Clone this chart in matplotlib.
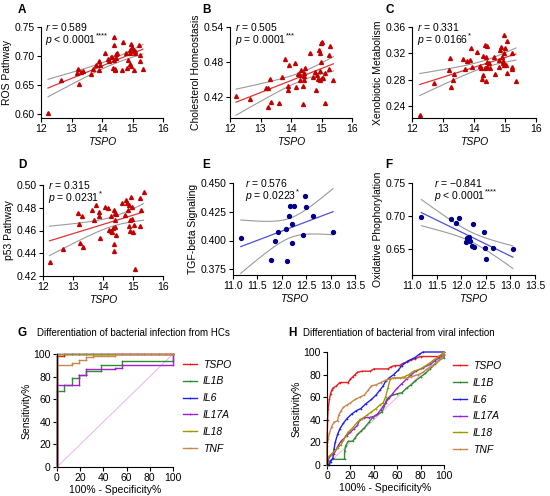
import numpy as np
import matplotlib.pyplot as plt
from matplotlib.lines import Line2D

plt.rcParams['font.family'] = ['Liberation Sans', 'DejaVu Sans']
plt.rcParams['mathtext.fontset'] = 'custom'
plt.rcParams['mathtext.rm'] = 'Liberation Sans'
plt.rcParams['mathtext.it'] = 'Liberation Sans:italic'
plt.rcParams['axes.linewidth'] = 0.8
plt.rcParams['xtick.major.width'] = 0.8
plt.rcParams['ytick.major.width'] = 0.8
plt.rcParams['xtick.major.size'] = 3
plt.rcParams['ytick.major.size'] = 3
plt.rcParams['xtick.major.pad'] = 1.5
plt.rcParams['ytick.major.pad'] = 1.5

# ---- scatter data (TSPO vs pathway score) ----
a_x = [12.23, 12.67, 13.20, 13.18, 13.26, 13.32, 13.38, 13.64, 13.71, 13.81, 13.90, 13.90, 13.94,
       14.11, 14.19, 14.23, 14.30, 14.34, 14.38, 14.40, 14.36, 14.43, 14.38, 14.45, 14.49, 14.47,
       14.44, 14.69, 14.66, 14.80, 14.82, 14.85, 14.91, 14.93, 14.93, 14.96, 14.95, 14.98, 14.99,
       15.01, 15.04, 15.07, 15.09, 15.20, 15.23, 15.25, 15.34]
a_y = [0.601, 0.659, 0.677, 0.670, 0.652, 0.672, 0.674, 0.669, 0.678, 0.684, 0.691, 0.675, 0.685,
       0.706, 0.694, 0.691, 0.699, 0.698, 0.732, 0.719, 0.679, 0.676, 0.693, 0.703, 0.706, 0.696,
       0.677, 0.724, 0.676, 0.705, 0.679, 0.693, 0.710, 0.705, 0.687, 0.683, 0.720, 0.716, 0.710,
       0.711, 0.676, 0.705, 0.708, 0.719, 0.692, 0.702, 0.678]

b_x = [12.20, 12.66, 13.18, 13.23, 13.32, 13.23, 13.35, 13.62, 13.70, 13.79, 13.90, 13.90, 13.93,
       14.12, 14.17, 14.23, 14.28, 14.30, 14.33, 14.38, 14.38, 14.41, 14.43, 14.44, 14.45, 14.63,
       14.71, 14.79, 14.81, 14.85, 14.90, 14.92, 14.94, 14.94, 14.97, 15.00, 14.96, 14.99, 15.01,
       15.05, 15.10, 15.10, 15.23, 15.25, 15.29, 15.39]
b_y = [0.422, 0.418, 0.436, 0.436, 0.452, 0.403, 0.412, 0.411, 0.455, 0.486, 0.440, 0.432, 0.476,
       0.479, 0.438, 0.460, 0.458, 0.449, 0.467, 0.440, 0.409, 0.450, 0.462, 0.457, 0.470, 0.495,
       0.455, 0.464, 0.432, 0.458, 0.451, 0.501, 0.465, 0.450, 0.513, 0.515, 0.496, 0.481, 0.453,
       0.453, 0.461, 0.410, 0.468, 0.493, 0.507, 0.450]

c_x = [12.25, 12.70, 13.21, 13.18, 13.25, 13.32, 13.37, 13.64, 13.70, 13.79, 13.88, 13.91, 13.94,
       14.11, 14.18, 14.22, 14.26, 14.28, 14.30, 14.35, 14.37, 14.39, 14.39, 14.41, 14.42, 14.43,
       14.47, 14.50, 14.65, 14.67, 14.80, 14.82, 14.84, 14.88, 14.91, 14.93, 14.95, 14.97, 14.97,
       14.98, 15.00, 15.03, 15.08, 15.08, 15.22, 15.24, 15.24, 15.35]
c_y = [0.2265, 0.275, 0.3125, 0.295, 0.269, 0.280, 0.289, 0.312, 0.296, 0.309, 0.310, 0.3285, 0.300,
       0.3225, 0.301, 0.2975, 0.281, 0.316, 0.2875, 0.2975, 0.333, 0.314, 0.278, 0.331, 0.3075, 0.300,
       0.305, 0.2985, 0.314, 0.289, 0.310, 0.300, 0.325, 0.330, 0.315, 0.309, 0.305, 0.321, 0.3025,
       0.3475, 0.3285, 0.3025, 0.339, 0.290, 0.296, 0.300, 0.320, 0.2785]

d_x = [12.22, 12.67, 13.15, 13.20, 13.24, 13.30, 13.34, 13.62, 13.69, 13.77, 13.86, 13.88, 13.90,
       14.08, 14.15, 14.21, 14.25, 14.27, 14.30, 14.34, 14.35, 14.37, 14.38, 14.40, 14.41, 14.42,
       14.40, 14.42, 14.64, 14.72, 14.78, 14.81, 14.83, 14.87, 14.88, 14.90, 14.91, 14.94, 14.96,
       14.98, 14.99, 15.04, 15.07, 15.23, 15.24, 15.26, 15.35]
d_y = [0.4326, 0.4434, 0.4757, 0.4657, 0.4487, 0.4730, 0.4452, 0.4780, 0.4692, 0.4824, 0.4727, 0.4762,
       0.4537, 0.4803, 0.4800, 0.4604, 0.4598, 0.4727, 0.4587, 0.4619, 0.4417, 0.4481, 0.4780, 0.4757,
       0.4692, 0.4560, 0.4628, 0.4745, 0.4839, 0.4736, 0.4868, 0.4845, 0.4780, 0.4824, 0.4640, 0.4598,
       0.4692, 0.4892, 0.4809, 0.4698, 0.4590, 0.4648, 0.4262, 0.4640, 0.4883, 0.4780, 0.4935]

e_x = [11.16, 11.77, 11.86, 11.93, 12.08, 12.10, 12.14, 12.16, 12.21, 12.25, 12.20, 12.44, 12.48,
       12.49, 12.64, 13.05]
e_y = [0.4021, 0.3827, 0.3995, 0.4070, 0.4096, 0.3821, 0.4214, 0.4304, 0.4145, 0.4304, 0.3975,
       0.4044, 0.4391, 0.4292, 0.4214, 0.4073]

f_x = [11.19, 11.80, 11.89, 11.95, 12.10, 12.12, 12.15, 12.18, 12.23, 12.22, 12.26, 12.46, 12.49,
       12.50, 12.65, 13.05]
f_y = [0.699, 0.6945, 0.6885, 0.6965, 0.660, 0.6667, 0.6677, 0.6616, 0.687, 0.654, 0.653, 0.675,
       0.6515, 0.6338, 0.6505, 0.649]

# ---- ROC data, G: bacterial infection vs HCs ----
g_names = ['TSPO', 'IL1B', 'IL6', 'IL17A', 'IL18', 'TNF']
g_fpr = {
    'TSPO': [0, 0, 6.25, 6.25, 12.5, 18.75, 25, 31.25, 37.5, 43.75, 50, 56.25, 62.5, 68.75, 75, 81.25, 87.5, 93.75, 100],
    'IL1B': [0, 0, 6.25, 6.25, 12.5, 12.5, 18.75, 18.75, 25, 25, 37.5, 37.5, 56.25, 56.25, 100, 100],
    'IL6': [0, 0, 100],
    'IL17A': [0, 0, 18.75, 18.75, 25, 25, 50, 50, 56.25, 56.25, 100, 100],
    'IL18': [0, 0, 100],
    'TNF': [0, 0, 12.5, 12.5, 18.75, 18.75, 25, 25, 31.25, 31.25, 50, 50, 100],
}
g_tpr = {
    'TSPO': [0, 98, 98, 100, 100, 100, 100, 100, 100, 100, 100, 100, 100, 100, 100, 100, 100, 100, 100],
    'IL1B': [0, 67, 67, 73, 73, 79, 79, 81, 81, 85, 85, 90, 90, 94, 94, 100],
    'IL6': [0, 100, 100],
    'IL17A': [0, 73, 73, 81, 81, 87, 87, 88, 88, 90, 90, 100],
    'IL18': [0, 100, 100],
    'TNF': [0, 90, 90, 92, 92, 95, 95, 97, 97, 98, 98, 100, 100],
}

# ---- ROC data, H: bacterial vs viral infection ----
h_fpr = {
    'TSPO': [0, 0, 0.5, 1, 2, 3, 4, 5, 8, 11, 18, 20, 22, 24, 26, 30, 37, 40, 52, 55, 58, 62, 65, 68, 72, 75, 80, 95, 100, 100],
    'IL1B': [0, 1, 2, 4, 15, 15, 16, 18, 22, 24, 26, 29, 32, 36, 39, 42, 47, 49, 51, 54, 60, 64, 68, 72, 75, 80, 84, 88, 92, 96, 100, 100],
    'IL6': [0, 2, 3, 5, 6, 7, 9, 11, 14, 17, 21, 25, 29, 33, 38, 42, 45, 48, 50, 53, 57, 61, 64, 69, 75, 79, 82, 100],
    'IL17A': [0, 1, 2, 4, 6, 8, 10, 12, 14, 17, 20, 23, 26, 28, 32, 36, 40, 43, 46, 48, 50, 53, 56, 60, 64, 68, 72, 76, 82, 88, 92, 96, 100, 100],
    'IL18': [0, 0, 1, 3, 6, 9, 12, 14, 16, 18, 20, 22, 26, 30, 34, 38, 42, 45, 48, 50, 52, 54, 58, 62, 66, 70, 74, 80, 86, 90, 94, 98, 100],
    'TNF': [0, 0, 1, 2, 4, 6, 9, 10, 12, 14, 17, 20, 24, 28, 32, 35, 38, 42, 46, 50, 56, 68, 72, 78, 82, 86, 90, 94, 98, 100, 100],
}
h_tpr = {
    'TSPO': [0, 20, 40, 50, 58, 63, 66, 68, 70, 73, 73, 76, 78, 80, 82, 83, 83, 85, 85, 87, 88, 88, 90, 91, 93, 94, 96, 96, 98, 100],
    'IL1B': [0, 0, 3, 5, 5, 12, 17, 21, 21, 24, 27, 30, 33, 38, 42, 44, 47, 52, 58, 61, 63, 64, 68, 71, 74, 78, 81, 85, 89, 93, 95, 100],
    'IL6': [0, 0, 3, 6, 14, 20, 27, 32, 37, 41, 45, 48, 50, 54, 58, 62, 66, 70, 74, 77, 80, 84, 88, 92, 95, 98, 100, 100],
    'IL17A': [0, 4, 7, 9, 10, 14, 18, 21, 23, 26, 29, 32, 35, 40, 42, 42, 43, 45, 49, 52, 55, 59, 63, 68, 72, 76, 80, 83, 86, 89, 92, 95, 97, 100],
    'IL18': [0, 2, 7, 9, 12, 15, 18, 22, 26, 29, 31, 33, 38, 41, 44, 47, 50, 53, 55, 60, 68, 76, 77, 77, 78, 80, 83, 85, 89, 92, 95, 98, 100],
    'TNF': [0, 17, 23, 28, 34, 38, 39, 44, 48, 51, 53, 55, 58, 60, 62, 66, 70, 71, 73, 75, 77, 77, 78, 80, 82, 85, 88, 91, 95, 98, 100],
}

roc_colors = {'TSPO': '#E41A1C', 'IL1B': '#2E8B2E', 'IL6': '#1F1FF0',
              'IL17A': '#A020D0', 'IL18': '#9A9A00', 'TNF': '#C8864A'}

W, H = 550, 496
fig = plt.figure(figsize=(W / 100, H / 100), dpi=100)


def px_axes(l, t, r, b):
    return fig.add_axes([l / W, 1 - b / H, (r - l) / W, (b - t) / H])


def fit_band(x, y):
    x = np.asarray(x)
    y = np.asarray(y)
    n = len(x)
    slope, icpt = np.polyfit(x, y, 1)
    xs = np.linspace(x.min(), x.max(), 120)
    yhat = icpt + slope * xs
    s = np.sqrt(np.sum((y - (icpt + slope * x)) ** 2) / (n - 2))
    sxx = np.sum((x - x.mean()) ** 2)
    df = n - 2
    z = 1.959964
    t = z + (z ** 3 + z) / (4 * df) + (5 * z ** 5 + 16 * z ** 3 + 3 * z) / (96 * df ** 2)
    se = s * np.sqrt(1 / n + (xs - x.mean()) ** 2 / sxx)
    return xs, yhat, yhat - t * se, yhat + t * se


def style_axes(ax):
    for side in ['top', 'right']:
        ax.spines[side].set_visible(False)
    ax.tick_params(labelsize=7.5, direction='out')


def scatter_panel(rect, x, y, pt_color, marker, ln_color, xlim, xticks, xfmt,
                  ylim, yticks, yfmt, ylabel, r_txt, p_txt, stars, tx):
    ax = px_axes(*rect)
    xs, yhat, lo, hi = fit_band(x, y)
    ax.plot(xs, lo, color='#9A9A9A', lw=0.8)
    ax.plot(xs, hi, color='#9A9A9A', lw=0.8)
    ax.plot(xs, yhat, color=ln_color, lw=0.9)
    ax.plot(x, y, linestyle='none', marker=marker, ms=2.8, color=pt_color, clip_on=False)
    ax.set_xlim(*xlim)
    ax.set_ylim(*ylim)
    ax.set_xticks(xticks)
    ax.set_xticklabels([xfmt.format(v) for v in xticks])
    ax.set_yticks(yticks)
    ax.set_yticklabels([yfmt.format(v) for v in yticks])
    ax.set_xlabel('TSPO', style='italic', fontsize=7.5, labelpad=2)
    ax.set_ylabel(ylabel, fontsize=7.5, labelpad=2)
    style_axes(ax)
    ax.text(tx, 1.0, r'$r$ = ' + r_txt, transform=ax.transAxes, fontsize=7.5, va='center')
    pt = ax.text(tx, 0.855, r'$p$ ' + p_txt, transform=ax.transAxes, fontsize=7.5, va='center')
    ax.annotate(stars, xy=(1.0, 0.55), xycoords=pt, fontsize=5.5, va='bottom', ha='left')
    return ax


row1_x = [12, 13, 14, 15, 16]
row2_x = [11.0, 11.5, 12.0, 12.5, 13.0, 13.5]

scatter_panel((41, 27, 163, 118), a_x, a_y, '#C00000', '^', '#E03535', (12, 16), row1_x, '{:.0f}',
              (0.593, 0.75), [0.60, 0.65, 0.70, 0.75], '{:.2f}', 'ROS Pathway',
              '0.589', '< 0.0001', '****', 0.03)
scatter_panel((230, 27, 352, 118), b_x, b_y, '#C00000', '^', '#E03535', (12, 16), row1_x, '{:.0f}',
              (0.385, 0.54), [0.42, 0.48, 0.54], '{:.2f}', 'Cholesterol Homeostasis',
              '0.505', '= 0.0001', '***', 0.04)
scatter_panel((412, 27, 536, 118), c_x, c_y, '#C00000', '^', '#E03535', (12, 16), row1_x, '{:.0f}',
              (0.222, 0.36), [0.24, 0.28, 0.32, 0.36], '{:.2f}', 'Xenobiotic Metabolism',
              '0.331', '= 0.0166', '*', 0.04)
scatter_panel((43, 185, 163, 276), d_x, d_y, '#C00000', '^', '#E03535', (12, 16), row1_x, '{:.0f}',
              (0.42, 0.50), [0.42, 0.44, 0.46, 0.48, 0.50], '{:.2f}', 'p53 Pathway',
              '0.315', '= 0.0231', '*', 0.04)
scatter_panel((233, 183, 355, 275), e_x, e_y, '#00008B', 'o', '#5050D8', (11, 13.5), row2_x, '{:.1f}',
              (0.37, 0.45), [0.375, 0.400, 0.425, 0.450], '{:.3f}', 'TGF-beta Signaling',
              '0.576', '= 0.0223', '*', 0.1)
scatter_panel((412, 183, 535, 275), f_x, f_y, '#00008B', 'o', '#5050D8', (11, 13.5), row2_x, '{:.1f}',
              (0.61, 0.75), [0.65, 0.70, 0.75], '{:.2f}', 'Oxidative Phophorylation',
              '\u22120.841', '< 0.0001', '****', 0.18)


def roc_panel(rect, fpr, tpr, title, title_x, leg_anchor):
    ax = px_axes(*rect)
    ax.plot([0, 100], [0, 100], color='#E8A6F2', lw=0.6)
    handles = []
    for name in g_names:
        c = roc_colors[name]
        ax.plot(fpr[name], tpr[name], color=c, lw=1.0, marker='+', ms=1.6, mew=0.5, clip_on=False)
        handles.append(Line2D([], [], color=c, lw=1.0, marker='+', ms=2.0, mew=0.6))
    ax.set_xlim(0, 100)
    ax.set_ylim(0, 100)
    ax.set_xticks([0, 20, 40, 60, 80, 100])
    ax.set_yticks([0, 20, 40, 60, 80, 100])
    ax.set_xlabel('100% - Specificity%', fontsize=7.5, labelpad=1)
    ax.set_ylabel('Sensitivity%', fontsize=7.5, labelpad=1)
    style_axes(ax)
    ax.legend(handles, g_names, loc='upper left', bbox_to_anchor=leg_anchor, frameon=False,
              prop={'style': 'italic', 'size': 7.5}, handlelength=1.3, handletextpad=0.6,
              labelspacing=0.65, borderpad=0, borderaxespad=0)
    fig.text(title_x / W, 1 - 333 / H, title, fontsize=7, va='center')
    return ax


roc_panel((57, 354, 173, 467), g_fpr, g_tpr, 'Differentiation of bacterial infection from HCs', 37,
          (1.086, 0.95))
roc_panel((327, 352, 444, 465), h_fpr, h_tpr, 'Differentiation of bacterial from viral infection', 303,
          (1.077, 0.92))

# panel letters
letters = [('A', 18, 10), ('B', 202, 10), ('C', 385, 10), ('D', 18, 165), ('E', 202, 165),
           ('F', 385, 165), ('G', 18, 333), ('H', 288, 333)]
for lab, lx, ly in letters:
    fig.text(lx / W, 1 - ly / H, lab, fontsize=8.5, fontweight='bold', va='center')

fig.savefig('out.png', dpi=100)
